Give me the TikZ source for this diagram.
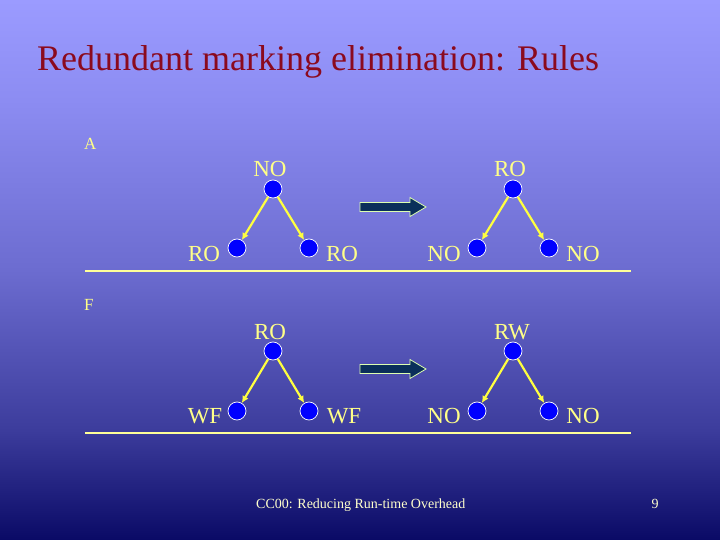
\documentclass[tikz,border=0pt]{standalone}
\usepackage{fontspec}
\setmainfont{Liberation Serif}
\usetikzlibrary{arrows.meta}
\definecolor{bgA}{HTML}{9B9BFF}
\definecolor{bgB}{HTML}{8C8CF2}
\definecolor{bgC}{HTML}{6C6CD0}
\definecolor{bgD}{HTML}{3C3C9C}
\definecolor{bgE}{HTML}{0A0A66}
\definecolor{titlered}{HTML}{8B0A1E}
\definecolor{lab}{HTML}{FFFF88}
\definecolor{edgey}{HTML}{FFFF40}
\definecolor{sepy}{HTML}{FFFF99}
\definecolor{foot}{HTML}{FFFFCC}
\definecolor{barrow}{HTML}{0A2F5A}
\definecolor{barrowline}{HTML}{DDFFB0}
\tikzset{
  pt/.style={circle,fill=blue,draw=white,line width=0.7pt,minimum size=18pt,inner sep=0pt},
  lbl/.style={text=lab,font=\fontsize{23}{23}\selectfont,inner sep=0pt,anchor=base},
  edge/.style={draw=edgey,line width=2.2pt,-{Latex[length=7pt,width=7pt]}},
  sep/.style={draw=sepy,line width=1.1pt},
  bigarrow/.style={fill=barrow,draw=barrowline,line width=0.8pt},
  small/.style={text=lab,font=\fontsize{17}{17}\selectfont,inner sep=0pt,anchor=base west}
}
\begin{document}
\begin{tikzpicture}[x=1pt,y=-1pt]
\useasboundingbox (0,0) rectangle (720,540);
\shade[top color=bgA,bottom color=bgB] (0,0) rectangle (720,100.5);
\shade[top color=bgB,bottom color=bgC] (0,100) rectangle (720,270.5);
\shade[top color=bgC,bottom color=bgD] (0,270) rectangle (720,430.5);
\shade[top color=bgD,bottom color=bgE] (0,430) rectangle (720,540);

\node[text=titlered,font=\fontsize{36}{36}\selectfont,anchor=base west,inner sep=0pt] (title) at (37,71) {Redundant marking elimination: Rules};

\node[small] (A) at (84,150) {A};
\node[small] (F) at (84,310) {F};

% rule A left
\node[pt] (a1) at (273,189) {};
\node[pt] (a2) at (237,248) {};
\node[pt] (a3) at (309,248) {};
\node[lbl] (a1l) at (270,177) {NO};
\node[lbl] (a2l) at (204,261) {RO};
\node[lbl] (a3l) at (342,261) {RO};
\draw[edge] (a1) -- (a2);
\draw[edge] (a1) -- (a3);
% rule A right
\node[pt] (b1) at (513,189) {};
\node[pt] (b2) at (477,248) {};
\node[pt] (b3) at (549,248) {};
\node[lbl] (b1l) at (510,177) {RO};
\node[lbl] (b2l) at (444,261) {NO};
\node[lbl] (b3l) at (583,261) {NO};
\draw[edge] (b1) -- (b2);
\draw[edge] (b1) -- (b3);
\draw[bigarrow] (360,202.5) -- (410,202.5) -- (410,197.5) -- (426,207) -- (410,216.5) -- (410,211.5) -- (360,211.5) -- cycle;
\coordinate (s1a) at (85,271);
\coordinate (s1b) at (631,271);
\draw[sep] (s1a) -- (s1b);

% rule F left
\node[pt] (c1) at (273,351) {};
\node[pt] (c2) at (237,411) {};
\node[pt] (c3) at (309,411) {};
\node[lbl] (c1l) at (270,339) {RO};
\node[lbl] (c2l) at (205,423) {WF};
\node[lbl] (c3l) at (344,423) {WF};
\draw[edge] (c1) -- (c2);
\draw[edge] (c1) -- (c3);
% rule F right
\node[pt] (d1) at (513,351) {};
\node[pt] (d2) at (477,411) {};
\node[pt] (d3) at (549,411) {};
\node[lbl] (d1l) at (512,339) {RW};
\node[lbl] (d2l) at (444,423) {NO};
\node[lbl] (d3l) at (583,423) {NO};
\draw[edge] (d1) -- (d2);
\draw[edge] (d1) -- (d3);
\draw[bigarrow] (360,364.5) -- (410,364.5) -- (410,359.5) -- (426,369) -- (410,378.5) -- (410,373.5) -- (360,373.5) -- cycle;
\coordinate (s2a) at (85,433);
\coordinate (s2b) at (631,433);
\draw[sep] (s2a) -- (s2b);

\node[text=foot,font=\fontsize{14}{14}\selectfont,anchor=base west,inner sep=0pt] (footer) at (256,508) {CC00: Reducing Run-time Overhead};
\node[text=foot,font=\fontsize{14}{14}\selectfont,anchor=base,inner sep=0pt] (page) at (655,508) {9};
\end{tikzpicture}
\end{document}
